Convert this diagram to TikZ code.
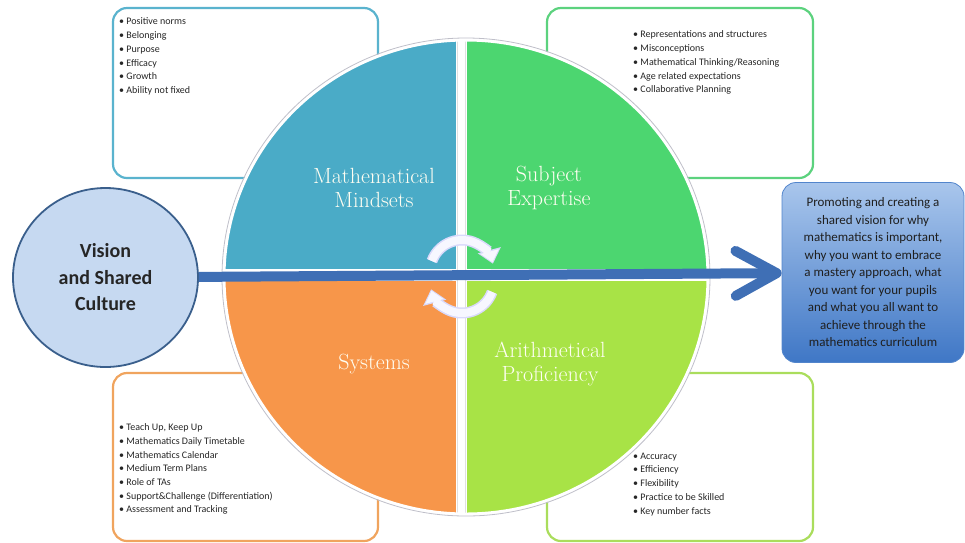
\documentclass[tikz,border=0pt]{standalone}
\usepackage{fontspec}
\setsansfont{Carlito}
\usetikzlibrary{arrows.meta,shapes.geometric}

\definecolor{mindcol}{HTML}{4AABC7}
\definecolor{subjcol}{HTML}{4CD670}
\definecolor{syscol}{HTML}{F7964A}
\definecolor{arithcol}{HTML}{A8E346}
\definecolor{mindedge}{HTML}{5AB3CE}
\definecolor{subjedge}{HTML}{5CD27E}
\definecolor{sysedge}{HTML}{F0A45E}
\definecolor{arithedge}{HTML}{AADD5C}
\definecolor{visionfill}{HTML}{C6D9F1}
\definecolor{visionedge}{HTML}{3A5F8C}
\definecolor{arrowcol}{HTML}{3F6FB5}
\definecolor{goaltop}{HTML}{A9C6EC}
\definecolor{goalbot}{HTML}{3F77C6}

\tikzset{
  listbox/.style={rounded corners=14pt, line width=2.2pt, fill=white},
  listtext/.style={anchor=north west, inner sep=0pt, align=left, text=black!85,
    font=\sffamily\fontsize{10}{13.8}\selectfont},
  quadlabel/.style={align=center, text=white!95!yellow, inner sep=0pt,
    font=\fontsize{22}{24.5}\selectfont\addfontfeature{FakeStretch=1.07,FakeBold=1}},
  turnback/.style={draw=black!10!blue!15!white, line width=11pt,
    -{Triangle[length=14pt,width=23pt]}},
  turnfront/.style={draw=blue!3!white, line width=8pt, shorten >=1.6pt,
    -{Triangle[length=11pt,width=18pt]}}
}

\begin{document}
\begin{tikzpicture}[x=1pt,y=-1pt]
  \useasboundingbox (0,0) rectangle (965,542);

  % boxes behind the circle
  \draw[listbox, draw=mindedge] (113,8) rectangle (378,178);
  \draw[listbox, draw=subjedge] (547,8) rectangle (813,178);
  \draw[listbox, draw=sysedge] (113,373) rectangle (378,541);
  \draw[listbox, draw=arithedge] (547,373) rectangle (813,541);

  \node[listtext] (mindlist) at (119,17.5)
    {\textbullet\ Positive norms\\ \textbullet\ Belonging\\ \textbullet\ Purpose\\
     \textbullet\ Efficacy\\ \textbullet\ Growth\\ \textbullet\ Ability not fixed};
  \node[listtext] (subjlist) at (633,30.5)
    {\textbullet\ Representations and structures\\ \textbullet\ Misconceptions\\
     \textbullet\ Mathematical Thinking/Reasoning\\ \textbullet\ Age related expectations\\
     \textbullet\ Collaborative Planning};
  \node[listtext, font=\sffamily\fontsize{10}{13.7}\selectfont] (syslist) at (119,423.5)
    {\textbullet\ Teach Up, Keep Up\\ \textbullet\ Mathematics Daily Timetable\\
     \textbullet\ Mathematics Calendar\\ \textbullet\ Medium Term Plans\\
     \textbullet\ Role of TAs\\ \textbullet\ Support\&Challenge (Differentiation)\\
     \textbullet\ Assessment and Tracking};
  \node[listtext] (arithlist) at (633,452.5)
    {\textbullet\ Accuracy\\ \textbullet\ Efficiency\\ \textbullet\ Flexibility\\
     \textbullet\ Practice to be Skilled\\ \textbullet\ Key number facts};

  % the four quadrants
  \begin{scope}
    \clip (466,277) ellipse [x radius=242, y radius=237];
    \fill[mindcol] (200,20) rectangle (456,269);
    \fill[subjcol] (467,20) rectangle (730,269);
    \fill[syscol] (200,281) rectangle (456,540);
    \fill[arithcol] (467,281) rectangle (730,540);
    \draw[black!12, line width=0.8pt] (457.5,20) -- (457.5,540) (465.5,20) -- (465.5,540);
  \end{scope}
  \draw[white, line width=3pt] (466,277) ellipse [x radius=242, y radius=237];
  \draw[blue!15!black!25, line width=0.8pt] (466,277) ellipse [x radius=244, y radius=239];

  \node[quadlabel] (mind) at (374,188) {Mathematical\\Mindsets};
  \node[quadlabel] (subj) at (549,188) {Subject\\Expertise};
  \node[quadlabel] (sys) at (374,364) {Systems};
  \node[quadlabel] (arith) at (550,364) {Arithmetical\\Proficiency};

  % turning arrows in the middle
  \draw[turnback] (462,272) ++(200:32) arc[start angle=200, end angle=345, radius=32];
  \draw[turnfront] (462,272) ++(200:32) arc[start angle=200, end angle=345, radius=32];
  \draw[turnback] (462,281) ++(20:32) arc[start angle=20, end angle=165, radius=32];
  \draw[turnfront] (462,281) ++(20:32) arc[start angle=20, end angle=165, radius=32];

  \node[ellipse, draw=visionedge, line width=1.8pt, fill=visionfill,
    minimum width=185pt, minimum height=179pt, inner sep=0pt, align=center,
    text=black!85, font=\sffamily\bfseries\fontsize{20}{26.5}\selectfont]
    (vision) at (105.5,277.5) {Vision\\and Shared\\Culture};

  \node[rectangle, rounded corners=14pt, draw=goalbot!90!white, line width=0.8pt,
    top color=goaltop, bottom color=goalbot, minimum width=182pt, minimum height=180pt,
    inner sep=0pt, align=center, text=black!88,
    font=\sffamily\fontsize{13}{17.5}\selectfont]
    (goal) at (873,272.5)
    {Promoting and creating a\\shared vision for why\\mathematics is important,\\
     why you want to embrace\\a mastery approach, what\\you want for your pupils\\
     and what you all want to\\achieve through the\\mathematics curriculum};

  \draw[arrowcol, line width=10pt, -{Straight Barb[length=41pt,width=45pt,round]}]
    (vision) -- (goal);
\end{tikzpicture}
\end{document}
